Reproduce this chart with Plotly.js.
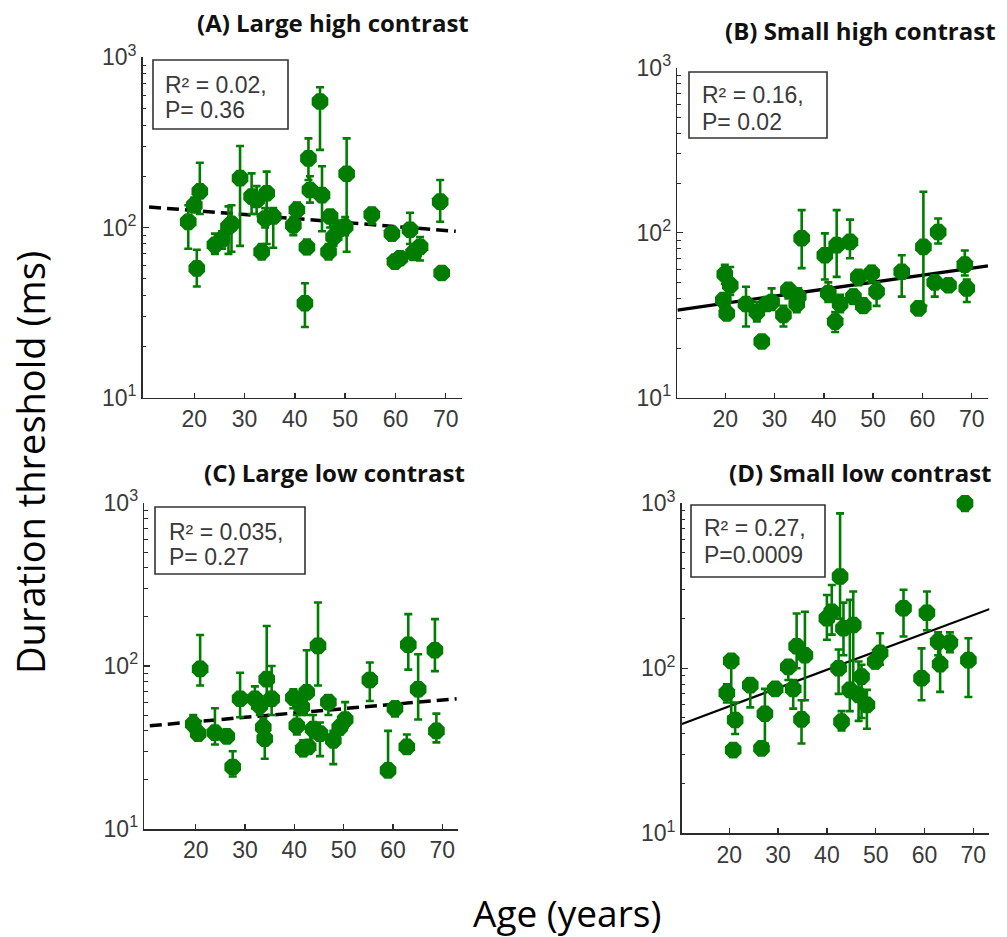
<!DOCTYPE html>
<html>
<head>
<meta charset="utf-8">
<script src="https://cdn.plot.ly/plotly-3.0.1.min.js"></script>
<style>
  html, body { margin: 0; padding: 0; background: #ffffff; }
  #chart { width: 1007px; height: 937px; }
</style>
</head>
<body>
<div id="chart"></div>
<script>
// ---------- (A) Large high contrast ----------
const ageA = [18.8, 20.0, 21.1, 20.5, 24.1, 25.5, 26.8, 27.4, 29.1, 31.4, 32.4, 33.4, 34.4, 34.1, 35.7, 39.7, 40.4, 42.4, 42.0, 42.7, 43.0, 45.0, 45.4, 46.7, 47.0, 47.7, 48.7, 50.3, 50.0, 55.3, 59.3, 59.9, 60.9, 62.9, 63.6, 64.9, 68.9, 69.2];
const thrA = [108, 135, 163, 57.5, 79, 85, 101, 105, 195, 152, 145, 72, 159, 113, 116, 103, 127, 76.5, 35.9, 255, 166, 550, 155, 72, 116, 88, 97, 207, 101, 119, 92, 63, 66, 97, 71, 77, 142, 54];
const hiA  = [135, 150, 240, 74, 92, 95, 133, 135, 301, 208, 175, 80, 213, 130, 130, 115, 140, 85, 47, 334, 200, 667, 229, 80, 125, 100, 110, 334, 115, 130, 100, 68, 70, 122, 78, 88, 190, 58];
const loA  = [75, 125, 120, 45, 70, 75, 70, 72, 78, 120, 120, 65, 80, 100, 76, 90, 110, 70, 26, 190, 140, 286, 95, 65, 100, 78, 85, 72, 90, 105, 85, 58, 62, 80, 65, 64, 108, 50];
const fitAgeA = [11, 72];
const fitThrA = [132, 95];

// ---------- (B) Small high contrast ----------
const ageB = [19.9, 21.0, 19.6, 20.3, 24.2, 26.4, 27.4, 29.4, 31.8, 32.8, 34.5, 35.5, 40.2, 40.9, 42.3, 42.6, 43.3, 45.3, 46.0, 47.0, 48.0, 49.7, 50.7, 55.8, 59.2, 60.2, 63.2, 62.5, 65.3, 68.6, 69.0, 34.8, 28.4];
const thrB = [56, 48, 39, 32.4, 37, 33, 21.9, 38, 31.7, 45, 37, 92.5, 73, 43, 28.9, 84, 37, 88, 41, 54, 36, 57, 44, 58, 34.8, 82, 101, 50, 48, 64, 46, 41, 37];
const hiB  = [64, 62, 42, 36, 47, 38, 23, 46, 36, 48, 45, 137, 99, 50, 33, 137, 42, 120, 45, 58, 40, 63, 50, 73, 36, 177, 122, 55, 52, 78, 52, 46, 40];
const loB  = [49, 42, 35, 30, 27, 29, 20.5, 34, 27, 40, 33, 61, 52, 38, 25, 54, 33, 70, 37, 48, 33, 50, 36, 41, 33, 36, 86, 41, 45, 55, 38, 37, 34];
const fitAgeB = [10.3, 73.3];
const fitThrB = [34, 63];

// ---------- (C) Large low contrast ----------
const ageC = [20.9, 19.5, 20.5, 23.9, 26.3, 27.5, 29.0, 32.0, 33.0, 34.4, 33.7, 34.0, 35.4, 39.8, 40.5, 41.8, 42.5, 42.8, 44.8, 43.8, 45.2, 46.9, 47.9, 50.3, 49.2, 55.3, 59.0, 60.4, 63.1, 62.8, 65.1, 68.5, 68.8, 41.5];
const thrC = [96, 44, 38.5, 39, 37, 24, 63, 63, 57, 83, 42, 35.8, 63, 64, 43, 31, 69, 31.9, 133, 41, 38.5, 60, 35, 47, 42, 82, 22.9, 55, 135, 31.9, 72, 125, 40, 56];
const hiC  = [155, 50, 46, 55, 40, 30, 91, 75, 65, 176, 48, 44, 100, 72, 50, 35, 125, 35, 245, 50, 45, 66, 40, 60, 46, 105, 40, 60, 208, 38, 118, 194, 51, 62];
const loC  = [76, 40, 35, 33, 34, 21, 48.5, 55, 50, 60, 37, 27, 50, 55, 38, 28, 50, 29, 76, 36, 28, 50, 25, 42, 38, 61, 21, 49, 95, 29, 47, 93, 34, 50];
const fitAgeC = [10.7, 72.9];
const fitThrC = [43, 63];

// ---------- (D) Small low contrast ----------
const ageD = [19.5, 20.4, 21.2, 20.8, 24.3, 27.3, 26.6, 29.4, 32.1, 33.1, 33.8, 35.5, 34.8, 40.0, 41.0, 42.7, 42.4, 43.0, 43.4, 45.4, 44.7, 46.5, 47.1, 48.2, 49.9, 50.9, 55.7, 59.4, 60.5, 62.8, 63.2, 65.2, 68.3, 69.0];
const thrD = [71, 111, 48.6, 32, 79, 53, 32.7, 75, 102, 75, 136, 120, 49, 201, 220, 360, 100, 47.5, 175, 183, 74, 69, 89, 60, 110, 124, 231, 87, 217, 145, 106, 143, 1000, 112];
const hiD  = [80, 118, 62, 35, 84, 75, 35, 79, 112, 85, 215, 220, 64, 278, 320, 869, 130, 55, 250, 292, 260, 110, 105, 74, 120, 163, 299, 132, 292, 165, 145, 165, 1000, 152];
const loD  = [62, 51, 40, 29, 58, 35, 31, 71, 85, 57, 100, 64, 35, 149, 160, 200, 70, 42, 120, 70, 55, 48, 50, 43, 100, 105, 156, 64, 170, 120, 72, 125, 900, 67];
const fitAgeD = [10.3, 73.4];
const fitThrD = [46, 229];

// Axis ticks, panel titles and regression statistics
const ageTicks = [20, 30, 40, 50, 60, 70];
const thrTicks = [10, 100, 1000];
const thrTickText = ['10<sup>1</sup>', '10<sup>2</sup>', '10<sup>3</sup>'];
const titles = ['(A) Large high contrast', '(B) Small high contrast', '(C) Large low contrast', '(D) Small low contrast'];
const statR2 = ['R² = 0.02,', 'R² = 0.16,', 'R² = 0.035,', 'R² = 0.27,'];
const statP  = ['P= 0.36', 'P= 0.02', 'P= 0.27', 'P=0.0009'];

// ---------- layout helpers (pixel -> paper) ----------
const W = 1007, H = 937;
const px = p => p / W;
const py = p => 1 - p / H;

const GREEN = 'rgb(0,125,0)';
const AXIS_COLOR = '#2b2b2b';
const TICK_FONT = { family: 'Liberation Sans, Arial, sans-serif', size: 23, color: '#3a3a3a' };

// plot frames in pixels: [left, right, top, bottom] plus x range
const frames = [
  { l: 142.7, r: 461.7, t: 57.3, b: 397.7, xr: [9.74, 73.18] },
  { l: 677.3, r: 988.3, t: 67.7, b: 397.7, xr: [10.26, 73.37] },
  { l: 144.3, r: 458.3, t: 503.0, b: 829.0, xr: [9.58, 73.24] },
  { l: 681.7, r: 989.3, t: 503.3, b: 833.3, xr: [10.25, 73.28] }
];

const panels = [
  { age: ageA, thr: thrA, hi: hiA, lo: loA, fx: fitAgeA, fy: fitThrA, dash: '12px,6px', lw: 3.5 },
  { age: ageB, thr: thrB, hi: hiB, lo: loB, fx: fitAgeB, fy: fitThrB, dash: 'solid', lw: 3.3 },
  { age: ageC, thr: thrC, hi: hiC, lo: loC, fx: fitAgeC, fy: fitThrC, dash: '12px,6px', lw: 3.5 },
  { age: ageD, thr: thrD, hi: hiD, lo: loD, fx: fitAgeD, fy: fitThrD, dash: 'solid', lw: 2.2 }
];

const minorVals = [];
[10, 100].forEach(d => { for (let k = 2; k <= 9; k++) minorVals.push(k * d); });

const traces = [];
const layout = {
  width: W, height: H,
  margin: { l: 0, r: 0, t: 0, b: 0 },
  paper_bgcolor: '#ffffff',
  plot_bgcolor: 'rgba(0,0,0,0)',
  showlegend: false,
  shapes: [],
  annotations: []
};

// stats box positions (pixels): box [l, r, t, b], text left, line centres
const boxes = [
  { l: 153, r: 288, t: 60, b: 129, tx: 163, y1: 85, y2: 110 },
  { l: 689, r: 827, t: 72, b: 138, tx: 700, y1: 95, y2: 121.7 },
  { l: 155, r: 305, t: 507, b: 574, tx: 166.7, y1: 531.7, y2: 556.7 },
  { l: 691, r: 825, t: 505, b: 577, tx: 701.7, y1: 528.3, y2: 555 }
];
const titlePos = [
  { x: 333, y: 23 }, { x: 860, y: 30 }, { x: 334, y: 472 }, { x: 860, y: 472 }
];

panels.forEach((p, i) => {
  const n = i + 1;
  const xa = n === 1 ? 'x' : 'x' + n;
  const ya = n === 1 ? 'y' : 'y' + n;
  const f = frames[i];

  // fitted regression line
  traces.push({
    type: 'scatter', mode: 'lines', x: p.fx, y: p.fy,
    xaxis: xa, yaxis: ya,
    line: { color: '#000000', width: p.lw, dash: p.dash },
    hoverinfo: 'skip'
  });

  // individual thresholds with error bars
  traces.push({
    type: 'scatter', mode: 'markers', x: p.age, y: p.thr,
    xaxis: xa, yaxis: ya, cliponaxis: false,
    marker: { symbol: 'octagon', size: 18, color: GREEN, line: { width: 0 } },
    error_y: {
      type: 'data', symmetric: false,
      array: p.hi.map((h, k) => h - p.thr[k]),
      arrayminus: p.lo.map((l, k) => p.thr[k] - l),
      color: GREEN, thickness: 2.6, width: 4
    }
  });

  layout['xaxis' + (n === 1 ? '' : n)] = {
    domain: [px(f.l), px(f.r)], anchor: ya,
    range: f.xr, tickmode: 'array', tickvals: ageTicks,
    showgrid: false, zeroline: false,
    showline: true, linecolor: AXIS_COLOR, linewidth: 1.6,
    ticks: 'inside', ticklen: 5, tickwidth: 1.3, tickcolor: AXIS_COLOR,
    tickfont: TICK_FONT
  };
  layout['yaxis' + (n === 1 ? '' : n)] = {
    domain: [py(f.b), py(f.t)], anchor: xa,
    type: 'log', range: [1, 3],
    tickmode: 'array', tickvals: thrTicks, ticktext: thrTickText,
    showgrid: false, zeroline: false,
    showline: true, linecolor: AXIS_COLOR, linewidth: 1.6,
    ticks: 'inside', ticklen: 6, tickwidth: 1.3, tickcolor: AXIS_COLOR,
    minor: { tickmode: 'array', tickvals: minorVals, ticks: 'inside', ticklen: 3.5, tickwidth: 1, tickcolor: AXIS_COLOR, showgrid: false },
    tickfont: TICK_FONT
  };

  const b = boxes[i];
  layout.shapes.push({
    type: 'rect', xref: 'paper', yref: 'paper',
    x0: px(b.l), x1: px(b.r), y0: py(b.b), y1: py(b.t),
    line: { color: '#333333', width: 1.6 }, fillcolor: '#ffffff'
  });
  [[statR2[i], b.y1], [statP[i], b.y2]].forEach(([txt, yy]) => {
    layout.annotations.push({
      xref: 'paper', yref: 'paper', x: px(b.tx), y: py(yy),
      xanchor: 'left', yanchor: 'middle', showarrow: false,
      text: txt, font: { family: 'Liberation Sans, Arial, sans-serif', size: 23, color: '#3a3a3a' }
    });
  });

  const t = titlePos[i];
  layout.annotations.push({
    xref: 'paper', yref: 'paper', x: px(t.x), y: py(t.y),
    xanchor: 'center', yanchor: 'middle', showarrow: false,
    text: '<b>' + titles[i] + '</b>',
    font: { family: 'Open Sans, Noto Sans, sans-serif', size: 24, color: '#111111' }
  });
});

// shared axis titles
layout.annotations.push({
  xref: 'paper', yref: 'paper', x: px(567), y: py(912),
  xanchor: 'center', yanchor: 'middle', showarrow: false,
  text: 'Age (years)',
  font: { family: 'Open Sans, Noto Sans, sans-serif', size: 37, color: '#000000' }
});
layout.annotations.push({
  xref: 'paper', yref: 'paper', x: px(30), y: py(463),
  xanchor: 'center', yanchor: 'middle', showarrow: false, textangle: -90,
  text: 'Duration threshold (ms)',
  font: { family: 'Open Sans, Noto Sans, sans-serif', size: 38, color: '#000000' }
});

Plotly.newPlot('chart', traces, layout, { displayModeBar: false, staticPlot: true });
</script>
</body>
</html>
